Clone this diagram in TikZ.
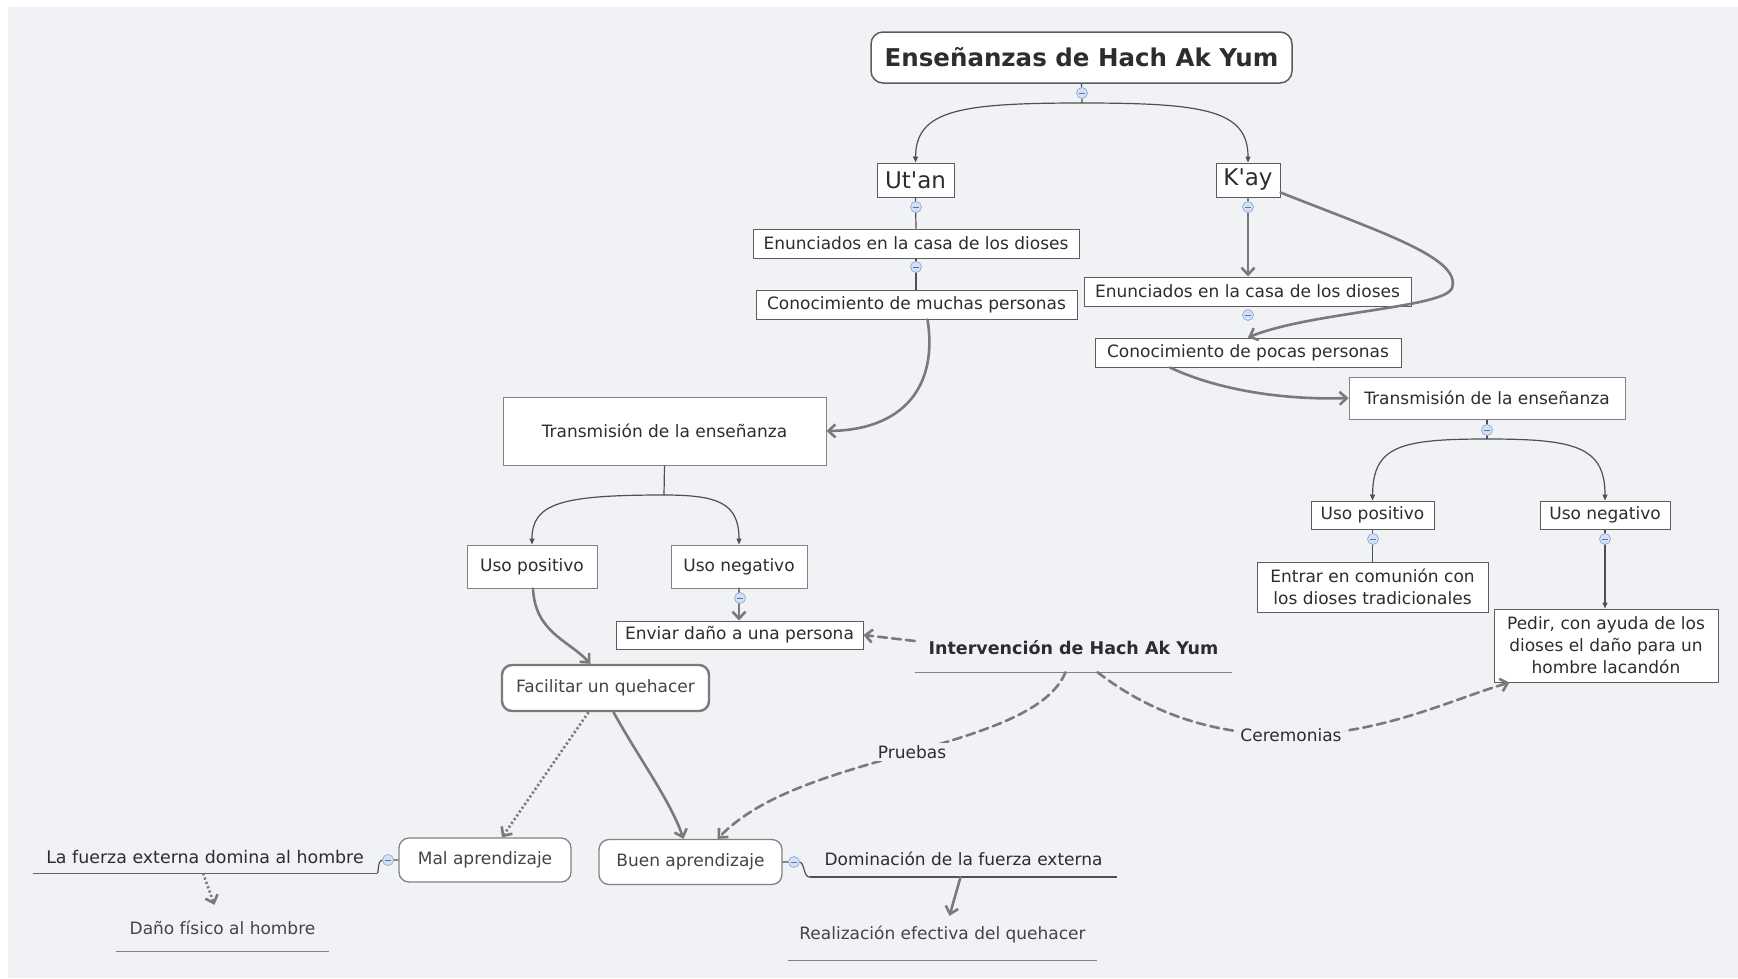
\documentclass[tikz,border=0pt]{standalone}
\usepackage{fontspec}
\setmainfont{DejaVu Sans}
\usetikzlibrary{arrows.meta}

\definecolor{canvas}{RGB}{241,242,246}
\definecolor{ink}{RGB}{45,45,45}
\definecolor{softink}{RGB}{68,68,68}
\definecolor{frame}{RGB}{130,130,130}
\definecolor{darkframe}{RGB}{92,92,92}
\definecolor{wire}{RGB}{122,122,122}
\definecolor{thinwire}{RGB}{80,80,80}
\definecolor{knobfill}{RGB}{210,225,246}
\definecolor{knobline}{RGB}{140,170,215}

\tikzset{
  txt/.style={font=\fontsize{17}{22}\selectfont, text=ink, inner sep=0pt, align=center},
  topicbox/.style={txt, draw=frame, line width=1pt, fill=white},
  darkbox/.style={topicbox, draw=darkframe},
  roundbox/.style={topicbox, rounded corners=10pt, line width=1.3pt, text=softink},
  floating/.style={txt, text=softink},
  underline/.style={draw=frame, line width=1.4pt},
  link/.style={draw=thinwire, line width=1.2pt},
  thinarrow/.style={link, -{Triangle[length=6pt,width=5pt]}},
  heavy/.style={draw=wire, line width=2.6pt, line cap=round, -{Straight Barb[length=7pt,width=13pt]}},
  dashheavy/.style={heavy, dash pattern=on 9pt off 5pt},
  dotheavy/.style={heavy, line cap=butt, dash pattern=on 2.2pt off 2.4pt},
  tag/.style={txt, fill=canvas, inner xsep=3pt, inner ysep=2pt},
  knob/.style={circle, minimum size=11pt, inner sep=0pt, fill=knobfill, draw=knobline, line width=0.7pt,
    path picture={\draw[draw=knobline!70!black, line width=0.8pt]
      ([xshift=-3pt]path picture bounding box.center) -- ([xshift=3pt]path picture bounding box.center);}}
}

\begin{document}
\begin{tikzpicture}[x=1pt,y=-1pt]
\useasboundingbox (0,0) rectangle (1738,978);
\fill[white] (0,0) rectangle (1738,978);
\fill[canvas] (8,7) rectangle (1738,978);

% ---------- topics ----------
\node[darkbox, rounded corners=12pt, line width=1.5pt, minimum width=421pt, minimum height=51pt,
      font=\fontsize{24.5}{28}\selectfont\bfseries] (root) at (1081.5,57.5) {Enseñanzas de Hach Ak Yum};

\node[darkbox, minimum width=77pt, minimum height=34pt, font=\fontsize{23}{26}\selectfont] (utan) at (915.5,180) {Ut\textquotesingle an};
\node[darkbox, minimum width=64pt, minimum height=34pt, font=\fontsize{23}{26}\selectfont] (kay) at (1248,180) {K\textquotesingle ay};

\node[darkbox, minimum width=326pt, minimum height=29pt] (enL) at (916,243.5) {Enunciados en la casa de los dioses};
\node[darkbox, minimum width=321pt, minimum height=29pt] (conM) at (916.5,304.5) {Conocimiento de muchas personas};

\node[darkbox, minimum width=327pt, minimum height=29pt] (enR) at (1247.5,291.5) {Enunciados en la casa de los dioses};
\node[darkbox, minimum width=306pt, minimum height=29pt] (conP) at (1248,352.5) {Conocimiento de pocas personas};

\node[topicbox, minimum width=276pt, minimum height=42pt] (trR) at (1487,398) {Transmisión de la enseñanza};
\node[darkbox, minimum width=123pt, minimum height=28pt] (upR) at (1372.5,515) {Uso positivo};
\node[darkbox, minimum width=130pt, minimum height=28pt] (unR) at (1605,515) {Uso negativo};
\node[darkbox, minimum width=231pt, minimum height=50pt] (entrar) at (1372.5,587) {Entrar en comunión con\\los dioses tradicionales};
\node[darkbox, minimum width=224pt, minimum height=73pt] (pedir) at (1606,645.5) {Pedir, con ayuda de los\\dioses el daño para un\\hombre lacandón};

\node[topicbox, minimum width=323pt, minimum height=68pt] (trL) at (664.5,431) {Transmisión de la enseñanza};
\node[topicbox, minimum width=130pt, minimum height=43pt] (upL) at (532,566.5) {Uso positivo};
\node[topicbox, minimum width=136pt, minimum height=43pt] (unL) at (739,566.5) {Uso negativo};
\node[darkbox, minimum width=247pt, minimum height=28pt] (enviar) at (739.5,635) {Enviar daño a una persona};

\node[roundbox, draw=wire, line width=2.4pt, minimum width=207pt, minimum height=46pt] (facil) at (605.5,688) {Facilitar un quehacer};
\node[roundbox, minimum width=172pt, minimum height=44pt] (mal) at (485,860) {Mal aprendizaje};
\node[roundbox, minimum width=183pt, minimum height=45pt] (buen) at (690.5,862) {Buen aprendizaje};

\node[txt, font=\fontsize{17.5}{22}\selectfont\bfseries, minimum width=317pt, minimum height=48pt] (inter) at (1073.5,648) {Intervención de Hach Ak Yum};
\node[txt, font=\fontsize{17.4}{22}\selectfont, minimum width=344pt, minimum height=32pt] (fuerza) at (205,857) {La fuerza externa domina al hombre};
\node[floating, minimum width=213pt, minimum height=46pt] (dano) at (222.5,928) {Daño físico al hombre};
\node[txt, minimum width=307pt, minimum height=36pt] (dom) at (963.5,859) {Dominación de la fuerza externa};
\node[floating, minimum width=309pt, minimum height=52pt] (real) at (942.5,934) {Realización efectiva del quehacer};

% ---------- underlines of the floating topics ----------
\draw[underline] (inter.south west) -- (inter.south east);
\draw[underline, draw=thinwire!90] (fuerza.south west) -- (fuerza.south east);
\draw[underline] (dano.south west) -- (dano.south east);
\draw[underline, draw=thinwire, line width=2.2pt] (dom.south west) -- (dom.south east);
\draw[underline] (real.south west) -- (real.south east);

% ---------- root split ----------
\coordinate (j0) at (1082,103);
\draw[link] (root.south) -- (j0);
\draw[thinarrow] (j0) .. controls (960,103) and (916,110) .. (utan.north);
\draw[thinarrow] (j0) .. controls (1204,103) and (1248,110) .. (kay.north);

% ---------- Ut'an branch ----------
\draw[link] (utan.south) -- (enL.north);
\draw[link] (enL.south) -- (enL.south |- conM.north);
\draw[heavy] ([xshift=11pt]conM.south) .. controls (938,385) and (905,430) .. (trL.east);

% ---------- K'ay branch ----------
\draw[heavy] (kay.south) -- (kay.south |- enR.north);
\draw[heavy] ([yshift=5pt]kay.south east) .. controls (1380,232) and (1462,258) .. (1452,288)
             .. controls (1445,308) and (1310,312) .. (conP.north);
\draw[heavy] ([xshift=-78pt]conP.south) .. controls (1222,392) and (1290,400) .. (trR.west);

% ---------- right transmission ----------
\coordinate (j1) at (1487,439);
\draw[link] (trR.south) -- (j1);
\draw[thinarrow] (j1) .. controls (1400,439) and (1373,446) .. (upR.north);
\draw[thinarrow] (j1) .. controls (1574,439) and (1605,446) .. (unR.north);
\draw[link] (upR.south) -- (entrar.north);
\draw[thinarrow] (unR.south) -- (unR.south |- pedir.north);

% ---------- left transmission ----------
\coordinate (j2) at (664,495);
\draw[link] (trL.south) -- (j2);
\draw[thinarrow] (j2) .. controls (562,495) and (532,503) .. (upL.north);
\draw[thinarrow] (j2) .. controls (718,495) and (739,503) .. (unL.north);
\draw[heavy] (unL.south) -- (unL.south |- enviar.north);
\draw[heavy] ([xshift=1pt]upL.south) .. controls (535,632) and (568,640) .. ([xshift=-15pt]facil.north);

\draw[dotheavy] ([xshift=-17pt]facil.south) -- ([xshift=17pt]mal.north);
\draw[heavy] ([xshift=8pt]facil.south) .. controls (640,760) and (670,800) .. ([xshift=-7pt]buen.north);

% ---------- learning outcomes ----------
\draw[link] (mal.west) -- (383,860) .. controls (377,860) and (379,873) .. (fuerza.south east);
\draw[dotheavy] ([xshift=-2pt]fuerza.south) -- ([xshift=-8pt]dano.north);
\draw[link] (buen.east) -- (799,862) .. controls (805,862) and (803,877) .. (dom.south west);
\draw[heavy] ([xshift=-3pt]dom.south) -- ([xshift=7pt,yshift=-8pt]real.north);

% ---------- interventions ----------
\draw[dashheavy] ([yshift=7pt]inter.west) -- (enviar.east);
\draw[dashheavy] ([xshift=-8pt]inter.south) .. controls (1050,710) and (990,730) .. (912,752)
   node[tag] (pruebas) {Pruebas}
   .. controls (830,775) and (760,795) .. ([xshift=27pt]buen.north);
\draw[dashheavy] ([xshift=24pt]inter.south) .. controls (1140,705) and (1200,735) .. (1291,735)
   node[tag] (ceremonias) {Ceremonias}
   .. controls (1380,735) and (1450,700) .. ([xshift=16pt]pedir.south west);

% ---------- collapse knobs ----------
\node[knob] (k0) at (1082,93) {};
\node[knob] (k1) at (916,207) {};
\node[knob] (k2) at (916,267) {};
\node[knob] (k3) at (1248,207) {};
\node[knob] (k4) at (1248,315) {};
\node[knob] (k5) at (1487,430) {};
\node[knob] (k6) at (1373,539) {};
\node[knob] (k7) at (1605,539) {};
\node[knob] (k8) at (740,598) {};
\node[knob] (k9) at (388,860) {};
\node[knob] (k10) at (794,862) {};
\end{tikzpicture}
\end{document}
